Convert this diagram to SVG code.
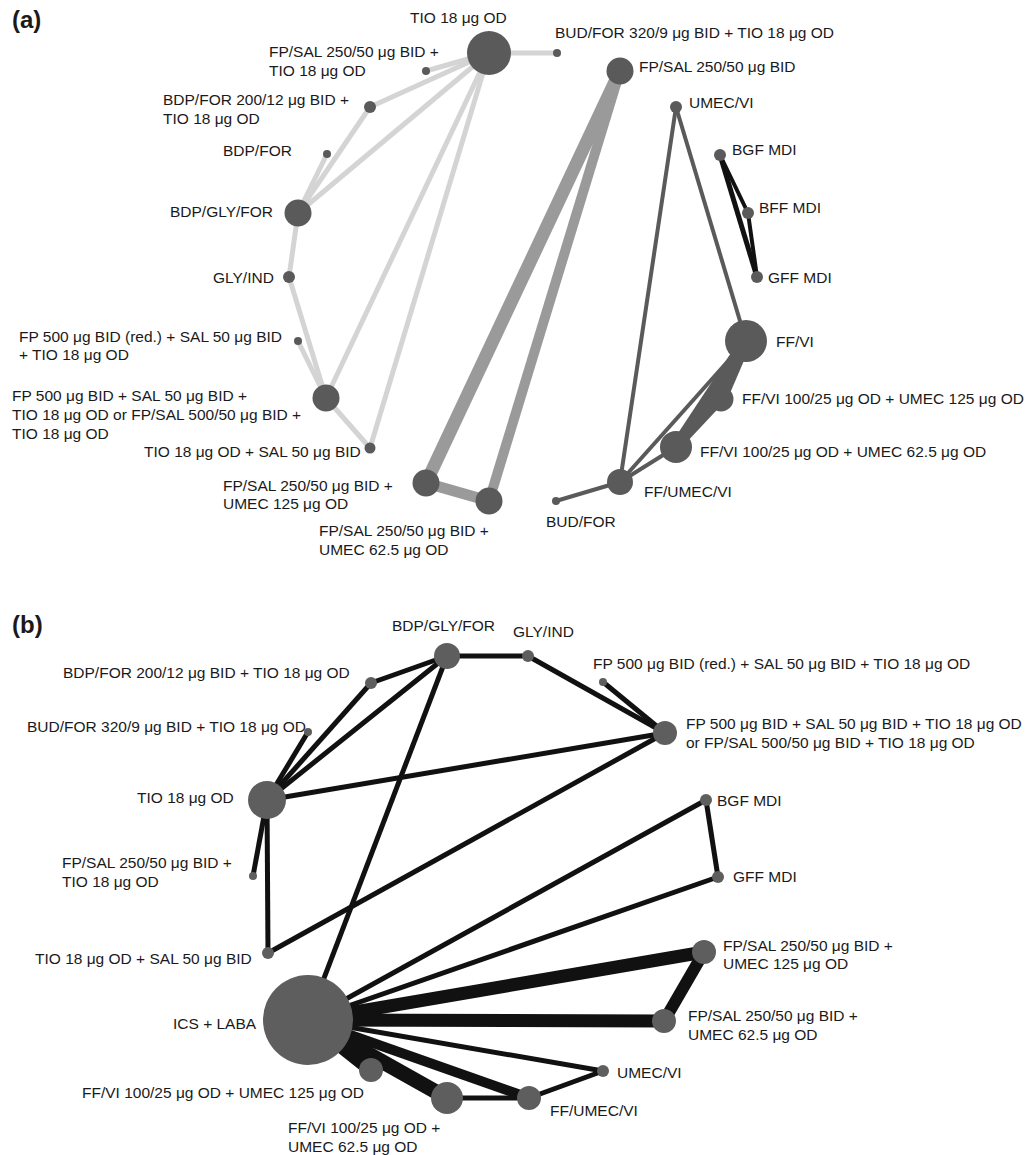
<svg xmlns="http://www.w3.org/2000/svg" width="1032" height="1155" viewBox="0 0 1032 1155">
<style>
text{font-family:"Liberation Sans",Arial,Helvetica,sans-serif;font-size:15.5px;fill:#1a1a1a}
.title{font-weight:bold;font-size:24px}
.n{fill:#5a5a5a}
.nb{fill:#5e5e5e}
line{stroke-linecap:butt}
.lt{stroke:#d4d4d4;stroke-width:5}
.md{stroke:#9a9a9a}
.dk{stroke:#5a5a5a}
.bk{stroke:#111}
</style>
<rect width="1032" height="1155" fill="#fff"/>
<text class="title" x="12" y="28">(a)</text>
<text class="title" x="12" y="633">(b)</text>

<g id="connectors-a">
<line class="lt" x1="489" y1="53" x2="557" y2="53"/>
<line class="lt" x1="489" y1="53" x2="426" y2="71"/>
<line class="lt" x1="489" y1="53" x2="370" y2="107"/>
<line class="lt" x1="489" y1="53" x2="298" y2="213"/>
<line class="lt" x1="489" y1="53" x2="326" y2="398"/>
<line class="lt" x1="489" y1="53" x2="370" y2="448"/>
<line class="lt" x1="370" y1="107" x2="298" y2="213"/>
<line class="lt" x1="327" y1="154" x2="298" y2="213"/>
<line class="lt" x1="298" y1="213" x2="289" y2="277"/>
<line class="lt" x1="289" y1="277" x2="326" y2="398"/>
<line class="lt" x1="298" y1="341" x2="326" y2="398"/>
<line class="lt" x1="326" y1="398" x2="370" y2="448"/>
<line class="md" stroke-width="13" x1="620" y1="71" x2="426" y2="483"/>
<line class="md" stroke-width="10" x1="620" y1="71" x2="489" y2="501"/>
<line class="md" stroke-width="11" x1="426" y1="483" x2="489" y2="501"/>
<line class="dk" stroke-width="4" x1="676" y1="107" x2="746" y2="341"/>
<line class="dk" stroke-width="4" x1="676" y1="107" x2="620" y2="482"/>
<line class="dk" stroke-width="12" x1="746" y1="341" x2="721" y2="399"/>
<line class="dk" stroke-width="12" x1="746" y1="341" x2="676" y2="447"/>
<line class="dk" stroke-width="9" x1="721" y1="399" x2="676" y2="447"/>
<line class="dk" stroke-width="4" x1="746" y1="341" x2="620" y2="482"/>
<line class="dk" stroke-width="4" x1="676" y1="447" x2="620" y2="482"/>
<line class="dk" stroke-width="4" x1="620" y1="482" x2="556" y2="501"/>
<line class="bk" stroke-width="5" x1="720" y1="155" x2="757" y2="277"/>
<line class="bk" stroke-width="4" x1="720" y1="155" x2="748" y2="213"/>
<line class="bk" stroke-width="4" x1="748" y1="213" x2="757" y2="277"/>
</g>

<g id="a-tio"><circle class="n" cx="489" cy="53" r="22"/><text x="410" y="23">TIO 18 μg OD</text></g>
<g id="a-fpsal-tio"><circle class="n" cx="426" cy="71" r="4"/><text x="269" y="57">FP/SAL 250/50 μg BID +</text><text x="269" y="76">TIO 18 μg OD</text></g>
<g id="a-bdpfor200-tio"><circle class="n" cx="370" cy="107" r="6"/><text x="163" y="105">BDP/FOR 200/12 μg BID +</text><text x="163" y="124">TIO 18 μg OD</text></g>
<g id="a-bdpfor"><circle class="n" cx="327" cy="154" r="4"/><text x="223" y="156">BDP/FOR</text></g>
<g id="a-bdpglyfor"><circle class="n" cx="298" cy="213" r="13.5"/><text x="170" y="217">BDP/GLY/FOR</text></g>
<g id="a-glyind"><circle class="n" cx="289" cy="277" r="6"/><text x="213" y="283">GLY/IND</text></g>
<g id="a-fp500red"><circle class="n" cx="298" cy="341" r="4"/><text x="19" y="342">FP 500 μg BID (red.) + SAL 50 μg BID</text><text x="19" y="360">+ TIO 18 μg OD</text></g>
<g id="a-fp500"><circle class="n" cx="326" cy="398" r="13.5"/><text x="12" y="401">FP 500 μg BID + SAL 50 μg BID +</text><text x="12" y="420">TIO 18 μg OD or FP/SAL 500/50 μg BID +</text><text x="12" y="439">TIO 18 μg OD</text></g>
<g id="a-tiosal"><circle class="n" cx="370" cy="448" r="5.5"/><text x="144" y="457">TIO 18 μg OD + SAL 50 μg BID</text></g>
<g id="a-fpsal-umec125"><circle class="n" cx="426" cy="483" r="13.5"/><text x="223" y="491">FP/SAL 250/50 μg BID +</text><text x="223" y="509">UMEC 125 μg OD</text></g>
<g id="a-fpsal-umec625"><circle class="n" cx="489" cy="501" r="13.5"/><text x="319" y="536">FP/SAL 250/50 μg BID +</text><text x="319" y="555">UMEC 62.5 μg OD</text></g>
<g id="a-budfor320-tio"><circle class="n" cx="557" cy="53" r="4"/><text x="555" y="38">BUD/FOR 320/9 μg BID + TIO 18 μg OD</text></g>
<g id="a-fpsal"><circle class="n" cx="620" cy="71" r="13.5"/><text x="639" y="72">FP/SAL 250/50 μg BID</text></g>
<g id="a-umecvi"><circle class="n" cx="676" cy="107" r="6"/><text x="689" y="108">UMEC/VI</text></g>
<g id="a-bgf"><circle class="n" cx="720" cy="155" r="6"/><text x="732" y="155">BGF MDI</text></g>
<g id="a-bff"><circle class="n" cx="748" cy="213" r="6"/><text x="759" y="213">BFF MDI</text></g>
<g id="a-gff"><circle class="n" cx="757" cy="277" r="6"/><text x="768" y="283">GFF MDI</text></g>
<g id="a-ffvi"><circle class="n" cx="746" cy="341" r="21"/><text x="776" y="347">FF/VI</text></g>
<g id="a-ffvi-umec125"><circle class="n" cx="721" cy="399" r="12.5"/><text x="742" y="404">FF/VI 100/25 μg OD + UMEC 125 μg OD</text></g>
<g id="a-ffvi-umec625"><circle class="n" cx="676" cy="447" r="16"/><text x="700" y="457">FF/VI 100/25 μg OD + UMEC 62.5 μg OD</text></g>
<g id="a-ffumecvi"><circle class="n" cx="620" cy="482" r="13"/><text x="644" y="497">FF/UMEC/VI</text></g>
<g id="a-budfor"><circle class="n" cx="556" cy="501" r="4"/><text x="546" y="527">BUD/FOR</text></g>

<g id="connectors-b" class="bk">
<line stroke-width="5" x1="447" y1="656" x2="528" y2="656"/>
<line stroke-width="5" x1="447" y1="656" x2="371" y2="683"/>
<line stroke-width="5" x1="447" y1="656" x2="267" y2="800"/>
<line stroke-width="5" x1="371" y1="683" x2="267" y2="800"/>
<line stroke-width="5" x1="308" y1="732" x2="267" y2="800"/>
<line stroke-width="5" x1="267" y1="800" x2="665" y2="733"/>
<line stroke-width="5" x1="267" y1="800" x2="253" y2="876"/>
<line stroke-width="5" x1="267" y1="800" x2="268" y2="953"/>
<line stroke-width="5" x1="528" y1="656" x2="665" y2="733"/>
<line stroke-width="5" x1="603" y1="682" x2="665" y2="733"/>
<line stroke-width="5" x1="268" y1="953" x2="665" y2="733"/>
<line stroke-width="5" x1="447" y1="656" x2="308" y2="1020"/>
<line stroke-width="5" x1="308" y1="1020" x2="706" y2="800"/>
<line stroke-width="5" x1="308" y1="1020" x2="718" y2="877"/>
<line stroke-width="5" x1="706" y1="800" x2="718" y2="877"/>
<line stroke-width="13" x1="308" y1="1020" x2="704" y2="952"/>
<line stroke-width="13" x1="308" y1="1020" x2="664" y2="1021"/>
<line stroke-width="12" x1="704" y1="952" x2="664" y2="1021"/>
<line stroke-width="5" x1="308" y1="1020" x2="603" y2="1071"/>
<line stroke-width="10" x1="308" y1="1020" x2="529" y2="1098"/>
<line stroke-width="14" x1="308" y1="1020" x2="371" y2="1070"/>
<line stroke-width="15" x1="308" y1="1020" x2="447" y2="1098"/>
<line stroke-width="5" x1="447" y1="1098" x2="529" y2="1098"/>
<line stroke-width="5" x1="529" y1="1098" x2="603" y2="1071"/>
</g>

<g id="b-bdpglyfor"><circle class="nb" cx="447" cy="656" r="13"/><text x="392" y="631">BDP/GLY/FOR</text></g>
<g id="b-glyind"><circle class="nb" cx="528" cy="656" r="6"/><text x="513" y="637">GLY/IND</text></g>
<g id="b-bdpfor200-tio"><circle class="nb" cx="371" cy="683" r="6"/><text x="63" y="678">BDP/FOR 200/12 μg BID + TIO 18 μg OD</text></g>
<g id="b-budfor320-tio"><circle class="nb" cx="308" cy="732" r="4"/><text x="27" y="732">BUD/FOR 320/9 μg BID + TIO 18 μg OD</text></g>
<g id="b-fp500red"><circle class="nb" cx="603" cy="682" r="4"/><text x="593" y="669">FP 500 μg BID (red.) + SAL 50 μg BID + TIO 18 μg OD</text></g>
<g id="b-fp500"><circle class="nb" cx="665" cy="733" r="12"/><text x="686" y="729">FP 500 μg BID + SAL 50 μg BID + TIO 18 μg OD</text><text x="686" y="748">or FP/SAL 500/50 μg BID + TIO 18 μg OD</text></g>
<g id="b-tio"><circle class="nb" cx="267" cy="800" r="19"/><text x="137" y="803">TIO 18 μg OD</text></g>
<g id="b-bgf"><circle class="nb" cx="706" cy="800" r="6"/><text x="717" y="806">BGF MDI</text></g>
<g id="b-fpsal-tio"><circle class="nb" cx="253" cy="876" r="4"/><text x="62" y="868">FP/SAL 250/50 μg BID +</text><text x="62" y="887">TIO 18 μg OD</text></g>
<g id="b-gff"><circle class="nb" cx="718" cy="877" r="6"/><text x="733" y="882">GFF MDI</text></g>
<g id="b-tiosal"><circle class="nb" cx="268" cy="953" r="6"/><text x="35" y="964">TIO 18 μg OD + SAL 50 μg BID</text></g>
<g id="b-fpsal-umec125"><circle class="nb" cx="704" cy="952" r="12"/><text x="723" y="951">FP/SAL 250/50 μg BID +</text><text x="723" y="969">UMEC 125 μg OD</text></g>
<g id="b-icslaba"><circle class="nb" cx="308" cy="1020" r="45"/><text x="173" y="1029">ICS + LABA</text></g>
<g id="b-fpsal-umec625"><circle class="nb" cx="664" cy="1021" r="12"/><text x="688" y="1021">FP/SAL 250/50 μg BID +</text><text x="688" y="1040">UMEC 62.5 μg OD</text></g>
<g id="b-ffvi-umec125"><circle class="nb" cx="371" cy="1070" r="12"/><text x="82" y="1098">FF/VI 100/25 μg OD + UMEC 125 μg OD</text></g>
<g id="b-umecvi"><circle class="nb" cx="603" cy="1071" r="6"/><text x="617" y="1078">UMEC/VI</text></g>
<g id="b-ffvi-umec625"><circle class="nb" cx="447" cy="1098" r="16"/><text x="288" y="1133">FF/VI 100/25 μg OD +</text><text x="288" y="1152">UMEC 62.5 μg OD</text></g>
<g id="b-ffumecvi"><circle class="nb" cx="529" cy="1098" r="12"/><text x="550" y="1116">FF/UMEC/VI</text></g>
</svg>
